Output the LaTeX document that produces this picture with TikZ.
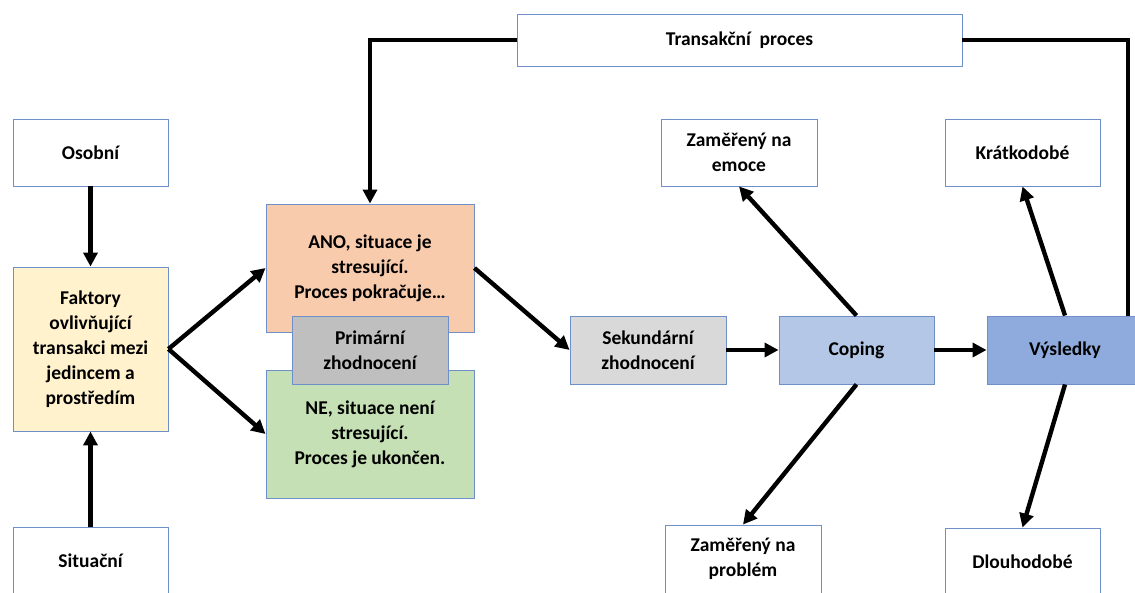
\documentclass[tikz,border=0pt]{standalone}
\usepackage{fontspec}
\setmainfont{Carlito}
\usetikzlibrary{arrows.meta}
\definecolor{bordc}{HTML}{6F8FC8}
\definecolor{cFak}{HTML}{FFF2CC}
\definecolor{cAno}{HTML}{F8CBAD}
\definecolor{cNe}{HTML}{C5E0B4}
\definecolor{cPri}{HTML}{BFBFBF}
\definecolor{cSek}{HTML}{D9D9D9}
\definecolor{cCop}{HTML}{B4C7E7}
\definecolor{cVys}{HTML}{8FAADC}
\tikzset{
  box/.style={draw=bordc, line width=0.9pt, fill=white, align=center, inner sep=0pt,
    font=\fontsize{19.5}{25}\selectfont\bfseries, text=black},
  conn/.style={line width=4.4pt, -{Triangle[length=14pt,width=14pt]}},
  plain/.style={line width=4.4pt},
}
\begin{document}
\begin{tikzpicture}[x=1pt,y=-1pt]
\useasboundingbox (0,0) rectangle (1135,592);
\clip (0,0) rectangle (1135,592);
% helper coordinate for the feedback loop
\coordinate (vr) at (1128,316);

% nodes
\node[box, minimum width=445pt, minimum height=52pt] (T) at (739.5,40) {Transakční\ \ proces};
\node[box, minimum width=155pt, minimum height=67pt] (O) at (90.5,152.5) {Osobní};
\node[box, fill=cFak, minimum width=155pt, minimum height=164pt] (F) at (90.5,349) {Faktory\\ovlivňující\\transakci mezi\\jedincem a\\prostředím};
\node[box, minimum width=155pt, minimum height=67pt] (S) at (90.5,561) {Situační};
\node[box, fill=cAno, minimum width=208pt, minimum height=128pt] (A) at (370,268) {ANO, situace je\\stresující.\\Proces pokračuje…};
\node[box, fill=cNe, minimum width=208pt, minimum height=128pt] (N) at (370,434) {NE, situace není\\stresující.\\Proces je ukončen.};
\node[box, fill=cPri, minimum width=156pt, minimum height=68pt] (P) at (370,350) {Primární\\zhodnocení};
\node[box, fill=cSek, minimum width=156pt, minimum height=68pt] (K) at (648,350) {Sekundární\\zhodnocení};
\node[box, fill=cCop, minimum width=155pt, minimum height=68pt] (C) at (856.5,350) {Coping};
\node[box, fill=cVys, minimum width=156pt, minimum height=68pt] (V) at (1065,350) {Výsledky};
\node[box, minimum width=156pt, minimum height=67pt] (E) at (739,152.5) {Zaměřený na\\emoce};
\node[box, minimum width=156pt, minimum height=68pt] (R) at (743,559) {Zaměřený na\\problém};
\node[box, minimum width=155pt, minimum height=67pt] (KR) at (1022.5,152.5) {Krátkodobé};
\node[box, minimum width=155pt, minimum height=68pt] (D) at (1022.5,562) {Dlouhodobé};

% connectors
\draw[conn] (O.south) -- (F.north);
\draw[conn] (S.north) -- (F.south);
\draw[conn] (F.east) -- (A.west);
\draw[conn] (F.east) -- (N.west);
\draw[conn] (A.east) -- (K.west);
\draw[conn] (K.east) -- (C.west);
\draw[conn] (C.east) -- (V.west);
\draw[conn] (C.north) -- (E.south);
\draw[conn] (C.south) -- (R.north);
\draw[conn] (V.north) -- (KR.south);
\draw[conn] (V.south) -- (D.north);
\draw[plain] (vr) |- (T.east);
\draw[conn] (T.west) -| (A.north);
\end{tikzpicture}
\end{document}
